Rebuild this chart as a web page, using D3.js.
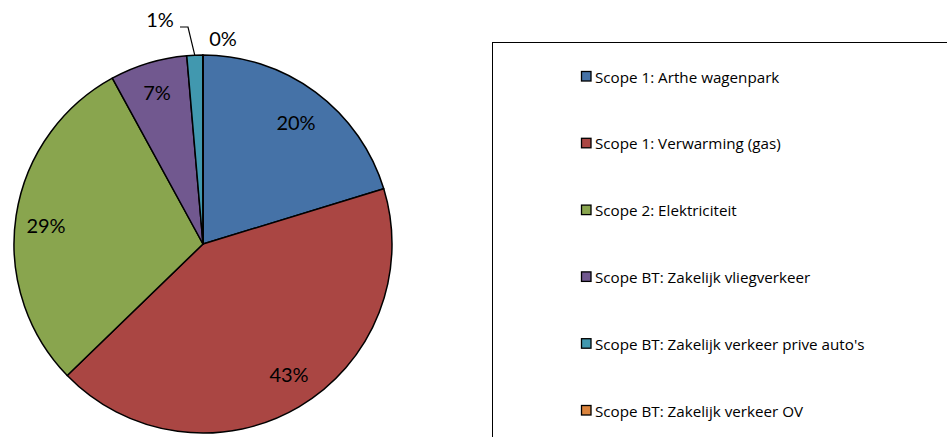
<!DOCTYPE html>
<html><head><meta charset="utf-8">
<script src="https://cdn.jsdelivr.net/npm/d3@7"></script>
<style>body{margin:0;background:#fff}svg{display:block}</style>
</head><body>
<script>
const categories = ["Scope 1: Arthe wagenpark","Scope 1: Verwarming (gas)","Scope 2: Elektriciteit","Scope BT: Zakelijk vliegverkeer","Scope BT: Zakelijk verkeer prive auto's","Scope BT: Zakelijk verkeer OV"];
const values = [20.3, 42.5, 29.3, 6.6, 1.35, 0.02];
const labels = ["20%","43%","29%","7%","1%","0%"];
const colors = ["#4572A7","#AA4643","#89A54E","#71588F","#4198AF","#DB843D"];

const W=947,H=437;
const svg=d3.select("body").append("svg").attr("width",W).attr("height",H);
const cx=203, cy=244, r=189;
const pie=d3.pie().sort(null).value(d=>d)(values);
const arc=d3.arc().innerRadius(0).outerRadius(r);
const g=svg.append("g").attr("transform",`translate(${cx},${cy})`);
g.selectAll("path").data(pie).join("path")
  .attr("d",arc).attr("fill",(d,i)=>colors[i])
  .attr("stroke","#000").attr("stroke-width",1.5).attr("stroke-linejoin","round");

const font="Lato, 'Open Sans', sans-serif";
const labelPos=[[93,-122],[86,130],[-157,-19],[-46,-152],[-43,-225],[20,-206]];
g.selectAll("text.lab").data(pie).join("text").attr("class","lab")
  .attr("font-family",font).attr("font-size",20).attr("fill","#000")
  .attr("text-anchor","middle").attr("dominant-baseline","central")
  .attr("x",(d,i)=>labelPos[i][0]).attr("y",(d,i)=>labelPos[i][1])
  .text((d,i)=>labels[i]);
// leader line for 1%
{
  const d=pie[4]; const a=(d.startAngle+d.endAngle)/2;
  const ex=Math.sin(a)*r, ey=-Math.cos(a)*r;
  g.append("path").attr("d",`M${-23},${-217}H${-15}L${ex},${ey}`)
   .attr("fill","none").attr("stroke","#000").attr("stroke-width",1.2);
}

// legend
svg.append("rect").attr("x",492.5).attr("y",42.5).attr("width",470).attr("height",420)
  .attr("fill","#fff").attr("stroke","#000").attr("stroke-width",1);
const ly=d3.scalePoint().domain(categories).range([76,410]);
const lg=svg.append("g").selectAll("g").data(categories).join("g")
  .attr("transform",d=>`translate(581,${ly(d)})`);
lg.append("rect").attr("x",0.5).attr("y",-4.5).attr("width",9.5).attr("height",9.5)
  .attr("fill",(d,i)=>colors[i]).attr("stroke","#000").attr("stroke-width",1.3);
lg.append("text").attr("x",14).attr("y",0.5).attr("dominant-baseline","central")
  .attr("font-family","'Open Sans', sans-serif").attr("font-size",15.2).attr("fill","#000").text(d=>d);
</script>
</body></html>
